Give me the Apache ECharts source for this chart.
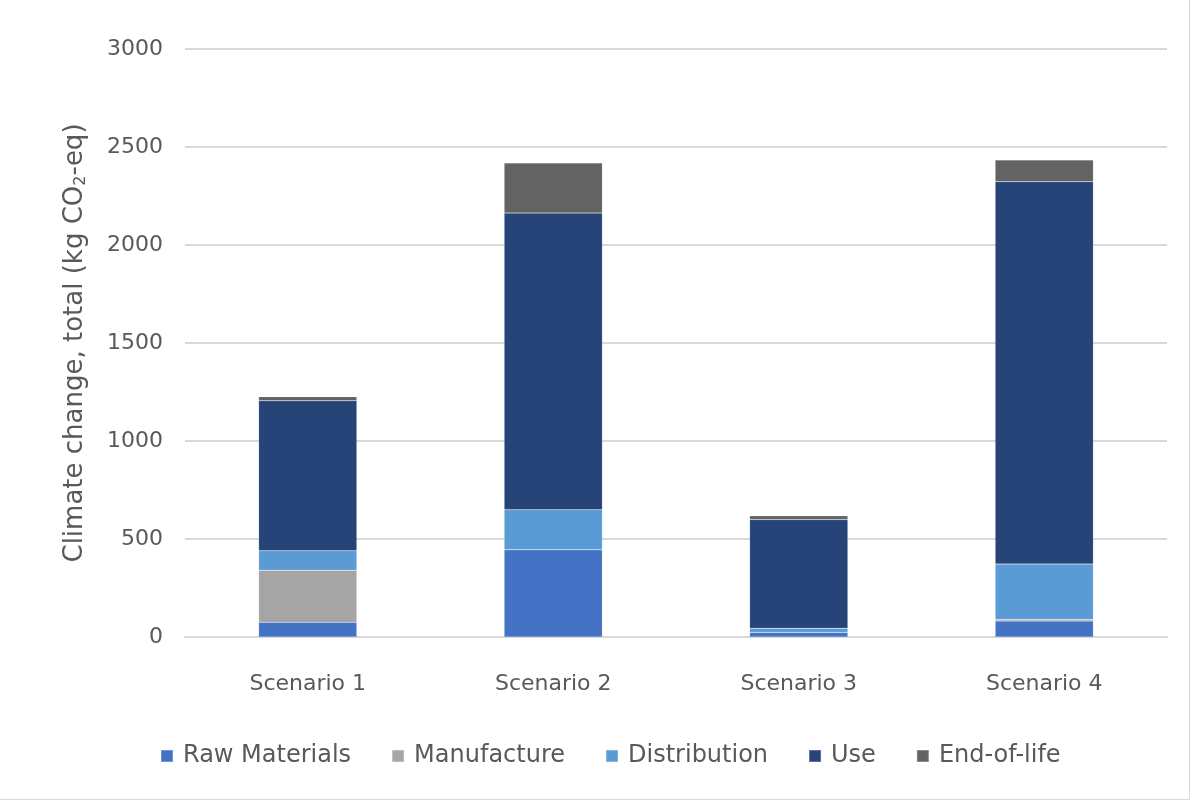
<!DOCTYPE html>
<html><head><meta charset="utf-8">
<script src="https://cdn.jsdelivr.net/npm/echarts@6/dist/echarts.min.js"></script>
<style>
html,body{margin:0;padding:0;background:#fff;}
#wrap{position:absolute;left:0;top:0;width:1189px;height:799px;border:1px solid #d9d9d9;border-top:none;border-left:none;}
#chart{width:1197px;height:805px;}
</style></head>
<body><div id="wrap"></div><div id="chart"></div>
<script>
const categories = ['Scenario 1','Scenario 2','Scenario 3','Scenario 4'];
const rawMaterials = [75, 445, 24, 82];
const manufacture = [266, 0, 0, 8];
const distribution = [99, 204, 21, 282];
const use = [765, 1514, 554, 1951];
const endOfLife = [21, 256, 19, 111];
const yTicks = [0, 500, 1000, 1500, 2000, 2500, 3000];

const font = 'DejaVu Sans';
const textColor = '#595959';
const seriesDefs = [
  ['Raw Materials', rawMaterials, '#4472C4'],
  ['Manufacture', manufacture, '#A5A5A5'],
  ['Distribution', distribution, '#5B9BD5'],
  ['Use', use, '#264478'],
  ['End-of-life', endOfLife, '#636363']
];
const chart = echarts.init(document.getElementById('chart'));
chart.setOption({
  animation: false,
  textStyle: {fontFamily: font},
  grid: {left: 185, right: 30, top: 49, bottom: 168},
  legend: {
    bottom: 32, left: 155, itemWidth: 12, itemHeight: 12, itemGap: 40,
    icon: 'rect',
    textStyle: {fontFamily: font, fontSize: 24, color: textColor, padding: [0,0,0,5]},
    data: seriesDefs.map(s => s[0])
  },
  xAxis: {
    type: 'category', data: categories,
    axisLine: {lineStyle: {color: '#d9d9d9', width: 2}},
    axisTick: {show: false},
    axisLabel: {fontFamily: font, fontSize: 22, color: textColor, margin: 36}
  },
  yAxis: {
    type: 'value', min: yTicks[0], max: yTicks[yTicks.length-1], interval: 500,
    name: 'Climate change, total (kg CO{sub|2}-eq)',
    nameLocation: 'middle', nameGap: 96, nameRotate: 90,
    nameTextStyle: {fontFamily: font, fontSize: 26, color: textColor,
      rich: {sub: {fontSize: 16, color: textColor, fontFamily: font, padding: [11,0,0,0]}}},
    axisLine: {show: false}, axisTick: {show: false},
    axisLabel: {fontFamily: font, fontSize: 22, color: textColor, margin: 22,
      formatter: v => String(v)},
    splitLine: {lineStyle: {color: '#d9d9d9', width: 2}}
  },
  series: seriesDefs.map(s => ({
    name: s[0], type: 'bar', stack: 'total', data: s[1], barWidth: '40%',
    itemStyle: {color: s[2], borderColor: 'rgba(255,255,255,0.25)', borderWidth: 0.5}
  }))
});
</script></body></html>
